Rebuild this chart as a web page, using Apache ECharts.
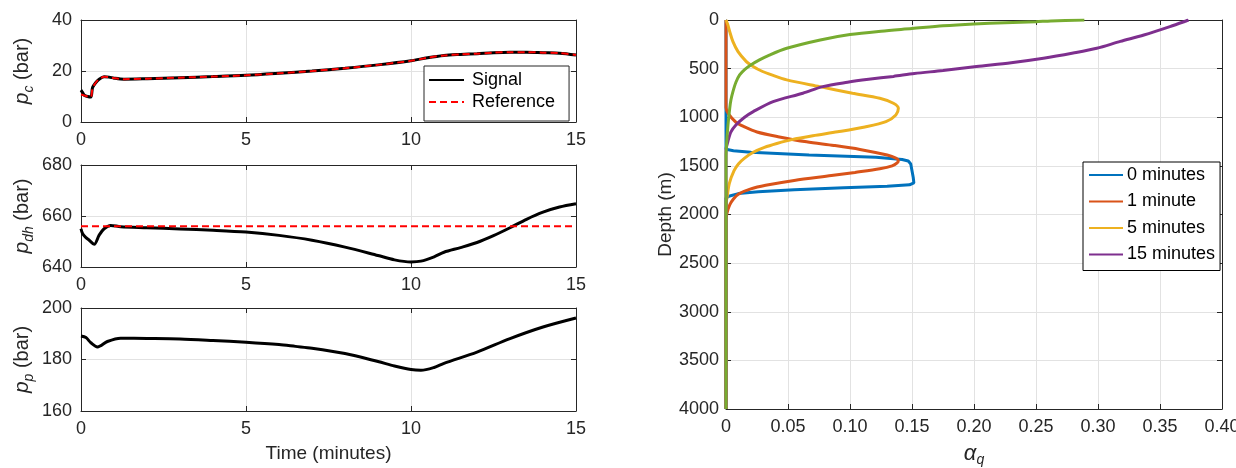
<!DOCTYPE html>
<html>
<head>
<meta charset="utf-8">
<script src="https://cdn.jsdelivr.net/npm/echarts@6/dist/echarts.min.js"></script>
<style>
html,body{margin:0;padding:0;background:#fff;}
#chart{width:1236px;height:468px;}
</style>
</head>
<body>
<div id="chart"></div>
<script>
// ---------- Left panels: time series ----------
const timeTicks = [0, 5, 10, 15];
const pcTicks = [0, 20, 40];
const pdhTicks = [640, 660, 680];
const ppTicks = [160, 180, 200];

const timeC = [0,0.05,0.1,0.2,0.3,0.35,0.45,0.55,0.7,0.85,1.0,1.3,2,3,4,5,6,7,8,9,10,10.5,11,11.5,12,12.5,13,13.5,14,14.5,15];
const pcSignal = [12.5,11.5,10.5,10,9.8,13.5,15.5,16.8,17.7,17.6,17.2,16.8,17,17.4,17.8,18.3,19.1,20,21.1,22.4,24,25.2,26.1,26.5,26.8,27.2,27.4,27.4,27.2,27,26.3];
const pcReference = [10.8,10.6,10.4,10,9.8,13.3,15.5,16.8,17.7,17.6,17.2,16.8,17,17.4,17.8,18.3,19.1,20,21.1,22.4,24,25.2,26.1,26.5,26.8,27.2,27.4,27.4,27.2,27,26.3];

const timeDh = [0,0.05,0.15,0.25,0.4,0.55,0.7,0.9,1.2,2,3,4,5,6,7,8,9,9.5,10,10.3,10.7,11,11.5,12,12.5,13,13.5,14,14.5,15];
const pdhSignal = [655,653,651.5,650.5,648.9,652.5,655,656.3,655.8,655.4,654.9,654.4,653.7,652.4,650.5,647.8,644.5,642.8,642,642.3,644,645.8,647.6,649.6,652.3,655.4,658.7,661.5,663.5,664.8];
const timeDhRef = [0, 15];
const pdhReference = [656, 656];

const timeP = [0,0.15,0.3,0.5,0.8,1.2,2,3,4,5,6,6.5,7,8,9,9.5,10,10.3,10.7,11,12,13,14,15];
const ppSignal = [189.1,188.5,186.5,184.9,187,188.3,188.2,188,187.4,186.7,185.8,185.1,184.4,182.3,179.2,177.5,176.1,175.8,176.9,178.5,182.9,188.1,192.6,196.1];

// ---------- Right panel: alpha_q vs depth ----------
const alphaTickLabels = ['0','0.05','0.10','0.15','0.20','0.25','0.30','0.35','0.40'];
const depthTicks = [0,500,1000,1500,2000,2500,3000,3500,4000];

const depth0 = [0,1330,1345,1360,1389,1412,1435,1450,1480,1550,1620,1675,1695,1710,1725,1745,1765,1785,1810,1830,4000];
const alpha0 = [0,0,0.006,0.02,0.067,0.121,0.142,0.147,0.149,0.150,0.151,0.1515,0.148,0.13,0.095,0.055,0.026,0.01,0.003,0,0];

const depth1 = [0,900,966,1051,1100,1152,1200,1253,1290,1331,1389,1420,1445,1470,1500,1530,1567,1600,1650,1700,1737,1790,1840,1900,1976,2050,4000];
const alpha1 = [0,0,0.002,0.008,0.015,0.025,0.042,0.065,0.087,0.108,0.13,0.137,0.139,0.138,0.134,0.124,0.104,0.085,0.055,0.032,0.02,0.01,0.006,0.003,0.001,0,0];

const depth5 = [0,50,120,223,325,428,462,514,570,616,685,753,805,856,908,976,1045,1100,1150,1190,1230,1270,1310,1360,1420,1480,1550,1680,1810,1900,4000];
const alpha5 = [0,0.0015,0.003,0.0056,0.0097,0.0164,0.02,0.027,0.038,0.049,0.0755,0.102,0.124,0.135,0.139,0.137,0.129,0.112,0.09,0.07,0.053,0.041,0.031,0.022,0.015,0.01,0.0065,0.0027,0.001,0,0];

const depth15 = [0,10,68,154,220,291,340,394,440,479,520,550,580,610,640,685,753,839,942,1000,1079,1150,1250,1340,4000];
const alpha15 = [0.373,0.371,0.358,0.337,0.318,0.299,0.28,0.256,0.23,0.202,0.175,0.152,0.135,0.115,0.098,0.078,0.062,0.038,0.022,0.015,0.008,0.004,0.0015,0,0];

const depth10 = [0,10,17,28,41,60,88,115,150,205,291,360,410,462,510,565,640,736,820,908,1079,1250,1400,4000];
const alpha10 = [0.289,0.262,0.25,0.225,0.2,0.175,0.15,0.125,0.1,0.076,0.049,0.035,0.027,0.02,0.015,0.011,0.008,0.0056,0.004,0.003,0.0016,0.0006,0,0];

const profileNames = ['0 minutes','1 minute','5 minutes','15 minutes','10 minutes'];
const profileColors = ['#0072BD','#D95319','#EDB120','#7E2F8E','#77AC30'];

// ---------- helpers ----------
const FONT = 'Liberation Sans, Arial, Helvetica, sans-serif';
const AX = '#262626';
const GRIDC = '#e2e2e2';
function zip(a, b) { return a.map((v, i) => [v, b[i]]); }
function ticksInfo(t) { return { min: t[0], max: t[t.length - 1], interval: t[1] - t[0] }; }

function mainAxis(gridIndex, ticks, extra) {
  return Object.assign({
    type: 'value', gridIndex: gridIndex,
    min: ticks.min, max: ticks.max, interval: ticks.interval,
    axisLine: { show: true, onZero: false, lineStyle: { color: AX, width: 1 } },
    axisTick: { show: true, inside: true, length: 5, lineStyle: { color: AX } },
    axisLabel: { color: AX, fontSize: 18, fontFamily: FONT, margin: 9, formatter: v => String(v) },
    splitLine: { show: true, lineStyle: { color: GRIDC, width: 1 } }
  }, extra || {});
}
function mirrorAxis(gridIndex, ticks, position, extra) {
  return Object.assign({
    type: 'value', gridIndex: gridIndex, position: position,
    min: ticks.min, max: ticks.max, interval: ticks.interval,
    axisLine: { show: true, onZero: false, lineStyle: { color: AX, width: 1 } },
    axisTick: { show: true, inside: true, length: 5, lineStyle: { color: AX } },
    axisLabel: { show: false },
    splitLine: { show: false }
  }, extra || {});
}
function yName(sub) { return '{i|p}{s|' + sub + '} (bar)'; }
const yNameStyle = {
  fontSize: 20, color: AX, fontFamily: FONT, lineHeight: 28,
  rich: {
    i: { fontStyle: 'italic', fontSize: 21, lineHeight: 28, fontFamily: FONT, color: AX },
    s: { fontStyle: 'italic', fontSize: 14, lineHeight: 12, verticalAlign: 'bottom', fontFamily: FONT, color: AX }
  }
};

const tT = ticksInfo(timeTicks);
const tPc = ticksInfo(pcTicks);
const tDh = ticksInfo(pdhTicks);
const tPp = ticksInfo(ppTicks);
const tDepth = ticksInfo(depthTicks);
const tAlpha = { min: 0, max: 0.4, interval: 0.05 };

const lineSeries = (name, xi, data, color, width, extra) => Object.assign({
  name: name, type: 'line', xAxisIndex: xi, yAxisIndex: xi, data: data,
  symbol: 'none', lineStyle: { color: color, width: width }, itemStyle: { color: color }
}, extra || {});

const option = {
  animation: false,
  backgroundColor: '#ffffff',
  grid: [
    { left: 81, width: 495, top: 20, height: 102, outerBoundsMode: 'none', containLabel: false },
    { left: 81, width: 495, top: 165, height: 102, outerBoundsMode: 'none', containLabel: false },
    { left: 81, width: 495, top: 308, height: 103, outerBoundsMode: 'none', containLabel: false },
    { left: 726, width: 496, top: 20, height: 389, outerBoundsMode: 'none', containLabel: false }
  ],
  xAxis: [
    mainAxis(0, tT),
    mainAxis(1, tT),
    mainAxis(2, tT, { name: 'Time (minutes)', nameLocation: 'middle', nameGap: 33,
      nameTextStyle: { fontSize: 19, color: AX, fontFamily: FONT } }),
    mainAxis(3, tAlpha, {
      axisLabel: { color: AX, fontSize: 18, fontFamily: FONT, margin: 9,
        formatter: v => alphaTickLabels[Math.round(v / 0.05)] },
      name: '{i|α}{s|q}', nameLocation: 'middle', nameGap: 32,
      nameTextStyle: {
        fontSize: 20, color: AX, fontFamily: FONT, lineHeight: 26,
        rich: {
          i: { fontStyle: 'italic', fontSize: 22, lineHeight: 26, fontFamily: FONT, color: AX },
          s: { fontStyle: 'italic', fontSize: 14, lineHeight: 10, verticalAlign: 'bottom', fontFamily: FONT, color: AX }
        }
      }
    }),
    mirrorAxis(0, tT, 'top'),
    mirrorAxis(1, tT, 'top'),
    mirrorAxis(2, tT, 'top'),
    mirrorAxis(3, tAlpha, 'top')
  ],
  yAxis: [
    mainAxis(0, tPc, { name: yName('c'), nameLocation: 'middle', nameGap: 45, nameRotate: 90, nameTextStyle: yNameStyle }),
    mainAxis(1, tDh, { name: yName('dh'), nameLocation: 'middle', nameGap: 45, nameRotate: 90, nameTextStyle: yNameStyle }),
    mainAxis(2, tPp, { name: yName('p'), nameLocation: 'middle', nameGap: 45, nameRotate: 90, nameTextStyle: yNameStyle }),
    mainAxis(3, tDepth, { inverse: true, name: 'Depth (m)', nameLocation: 'middle', nameGap: 50, nameRotate: 90,
      nameTextStyle: { fontSize: 19, color: AX, fontFamily: FONT },
      axisLabel: { color: AX, fontSize: 18, fontFamily: FONT, margin: 7, formatter: v => String(v) } }),
    mirrorAxis(0, tPc, 'right'),
    mirrorAxis(1, tDh, 'right'),
    mirrorAxis(2, tPp, 'right'),
    mirrorAxis(3, tDepth, 'right', { inverse: true })
  ],
  legend: [
    {
      data: ['Signal', 'Reference'], orient: 'vertical', left: 424, top: 66,
      padding: [4, 14, 9, 4], itemWidth: 35, itemHeight: 14, itemGap: 2,
      borderColor: AX, borderWidth: 1, borderRadius: 0, backgroundColor: '#ffffff',
      selectedMode: false, itemStyle: { opacity: 0 },
      textStyle: { fontSize: 18, lineHeight: 20, color: '#000', fontFamily: FONT, padding: [0, 0, 0, 3] }
    },
    {
      data: profileNames.slice(0, 4), orient: 'vertical', left: 1083, top: 162,
      padding: [2, 5, 5, 5], itemWidth: 34, itemHeight: 14, itemGap: 4.5,
      borderColor: '#000', borderWidth: 1, borderRadius: 0, backgroundColor: '#ffffff',
      selectedMode: false, itemStyle: { opacity: 0 },
      textStyle: { fontSize: 18, lineHeight: 22, color: '#000', fontFamily: FONT, padding: [0, 0, 0, -1] }
    }
  ],
  series: [
    lineSeries('Signal', 0, zip(timeC, pcSignal), '#000', 3, { smooth: 0.3 }),
    lineSeries('Reference', 0, zip(timeC, pcReference), '#ff0000', 2, { smooth: 0.3,
      lineStyle: { color: '#ff0000', width: 2, type: [7, 4] } }),
    lineSeries('Signal', 1, zip(timeDh, pdhSignal), '#000', 3, { smooth: 0.3 }),
    lineSeries('Reference', 1, zip(timeDhRef, pdhReference), '#ff0000', 2, {
      lineStyle: { color: '#ff0000', width: 2, type: [7, 4] } }),
    lineSeries('Signal', 2, zip(timeP, ppSignal), '#000', 3, { smooth: 0.3 }),

    lineSeries(profileNames[0], 3, zip(alpha0, depth0), profileColors[0], 3),
    lineSeries(profileNames[1], 3, zip(alpha1, depth1), profileColors[1], 3, { smooth: 0.3 }),
    lineSeries(profileNames[2], 3, zip(alpha5, depth5), profileColors[2], 3, { smooth: 0.3 }),
    lineSeries(profileNames[3], 3, zip(alpha15, depth15), profileColors[3], 3, { smooth: 0.3 }),
    lineSeries(profileNames[4], 3, zip(alpha10, depth10), profileColors[4], 3, { smooth: 0.3 })
  ]
};

const chart = echarts.init(document.getElementById('chart'), null, { renderer: 'canvas' });
chart.setOption(option);
</script>
</body>
</html>
